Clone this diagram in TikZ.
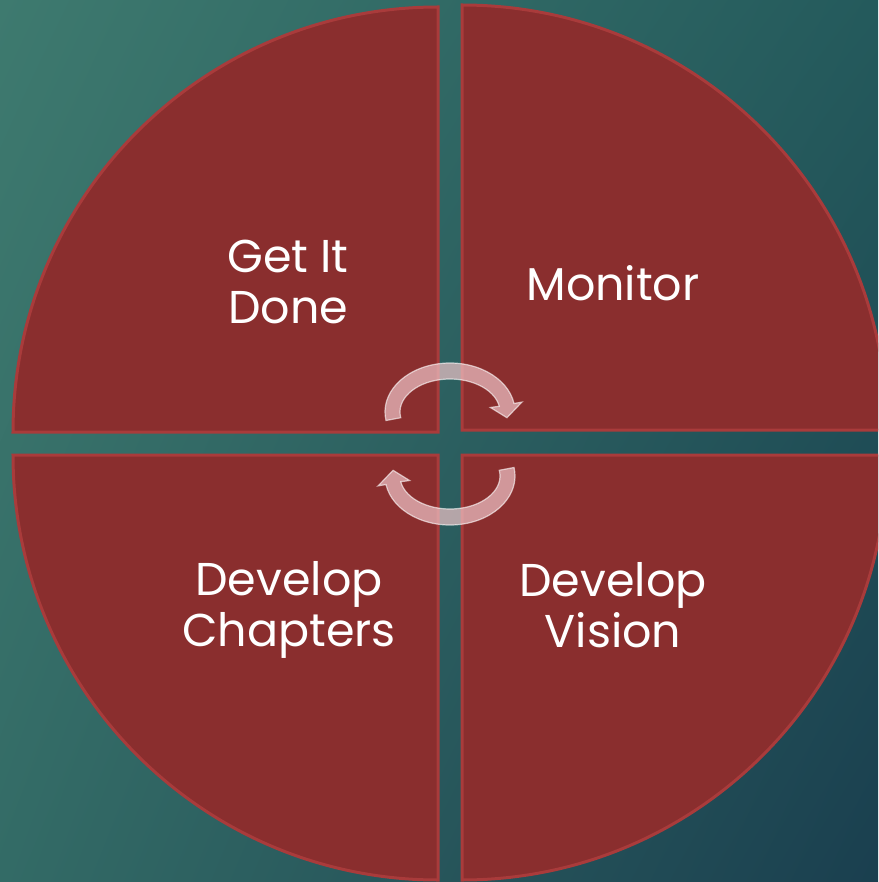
\documentclass[tikz,border=0pt]{standalone}
\usepackage{fontspec}
\setmainfont{Poppins}
\usetikzlibrary{calc,shadings}

\definecolor{bgTopLeft}{HTML}{3E7A6F}
\definecolor{bgTopRight}{HTML}{245A5C}
\definecolor{bgBottomLeft}{HTML}{336B66}
\definecolor{bgBottomRight}{HTML}{1A3F4F}
\definecolor{quadRed}{HTML}{8A2E2E}
\definecolor{quadEdge}{HTML}{A93B3B}
\definecolor{arrowPink}{HTML}{F0C4C8}

\begin{document}
\begin{tikzpicture}[
  x=1pt, y=-1pt,
  quarter/.style={fill=quadRed, draw=quadEdge, line width=3pt},
  label/.style={text=white, align=center, font=\fontsize{46}{51}\selectfont},
  cyclearrow/.pic={
    \filldraw[fill=arrowPink, fill opacity=0.7, draw=white, draw opacity=0.6, line width=1.2pt]
      (170:50 and 33) arc[start angle=170, end angle=350, x radius=50, y radius=33]
      -- (350:41 and 26) -- (8:57.5 and 41) -- (350:73 and 57)
      -- (350:65 and 49) arc[start angle=350, end angle=170, x radius=65, y radius=49]
      -- cycle;
  }
]

% Background
\useasboundingbox (0,0) rectangle (878,882);
\clip (0,0) rectangle (878,882);
\shade[upper left=bgTopLeft, upper right=bgTopRight,
       lower left=bgBottomLeft, lower right=bgBottomRight] (0,0) rectangle (878,882);

% Quarters of the circle
\path[quarter] (438,432) -- ++(180:425) arc[start angle=180, end angle=270, radius=425] -- cycle;
\path[quarter] (462,430) -- ++(270:425) arc[start angle=270, end angle=360, radius=425] -- cycle;
\path[quarter] (462,455) -- ++(0:425) arc[start angle=0, end angle=90, radius=425] -- cycle;
\path[quarter] (438,455) -- ++(90:425) arc[start angle=90, end angle=180, radius=425] -- cycle;

% Labels
\node[label] (getdone) at (288,282) {Get It\\Done};
\node[label] (monitor) at (613,283) {Monitor};
\node[label] (chapters) at (289,610) {Develop\\Chapters};
\node[label] (vision) at (613,605) {Develop\\Vision};

% Cycle arrows in the middle
\coordinate (hub) at (450,444);
\pic at ($(hub)+(0,-32)$) {cyclearrow};
\pic[rotate=180] at ($(hub)+(0,32)$) {cyclearrow};

\end{tikzpicture}
\end{document}
